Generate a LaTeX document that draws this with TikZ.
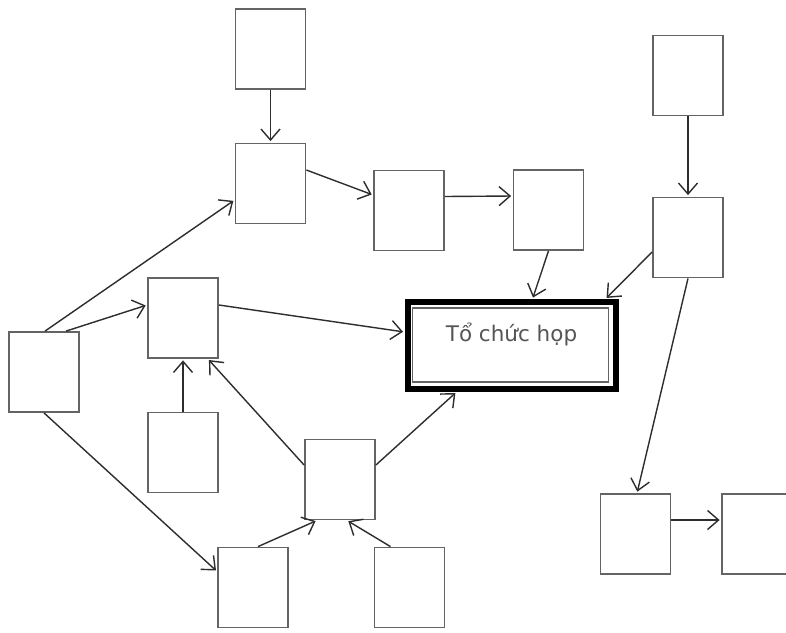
\documentclass[tikz,border=0pt]{standalone}
\usepackage{fontspec}
\newfontfamily\labelfont{DejaVu Sans}
\usetikzlibrary{arrows.meta}
\definecolor{boxgray}{RGB}{100,100,100}
\definecolor{arrgray}{RGB}{45,45,45}
\definecolor{txtgray}{RGB}{85,85,85}
\begin{document}
\begin{tikzpicture}[x=1pt,y=-1pt,
  box/.style={draw=boxgray, line width=1.8pt, minimum width=70pt, minimum height=80pt, inner sep=0pt, fill=white},
  conn/.style={draw=arrgray, line width=1.4pt, shorten >=1.5pt, -{Straight Barb[length=11pt,width=19pt,line width=1.4pt]}},
  mainbox/.style={draw=black, line width=6pt, minimum width=208pt, minimum height=87pt, inner sep=0pt,
     font=\labelfont\fontsize{21.5}{26}\selectfont, text=txtgray, text height=17pt, text depth=25pt}]
\useasboundingbox (0,0) rectangle (786,632);
\clip (0,0) rectangle (786,632);
\fill[white] (0,0) rectangle (786,632);
% boxes
\node[box] (top) at (270.5,49) {};
\node[box] (B) at (270.5,183.5) {};
\node[box] (C) at (409,210.5) {};
\node[box] (D) at (548.5,210) {};
\node[box] (RT) at (688,75.5) {};
\node[box] (RM) at (688,237.5) {};
\node[box] (E) at (183,318) {};
\node[box] (F) at (44,372) {};
\node[box] (G) at (183,452.5) {};
\node[box] (H) at (340,479.5) {};
\node[box] (I) at (253,587.5) {};
\node[box] (J) at (409.5,587.5) {};
\node[box] (K) at (635.5,534) {};
\node[box] (L) at (757,534) {};
\node[mainbox] (main) at (511.5,345.5) {Tổ chức họp};
\draw[boxgray, line width=1.3pt] ([xshift=8pt,yshift=-9pt]main.north west) rectangle ([xshift=-10pt,yshift=10pt]main.south east);
% connectors
\draw[conn] (top.south) -- (B.north);
\draw[conn] ([yshift=13.5pt]B.east) -- ([yshift=15.5pt]C.west);
\draw[conn] ([yshift=14pt]C.east) -- ([yshift=14pt]D.west);
\draw[conn] (D.south) -- ([xshift=21pt]main.north);
\draw[conn] ([yshift=-14.5pt]RM.west) -- ([xshift=-13pt]main.north east);
\draw[conn] (RT.south) -- (RM.north);
\draw[conn] (RM.south) -- ([xshift=1.5pt]K.north);
\draw[conn] ([yshift=14pt]K.east) -- ([yshift=14pt]L.west);
\draw[conn] ([xshift=1pt]F.north) -- ([yshift=-16.5pt]B.west);
\draw[conn] ([xshift=22pt]F.north) -- ([yshift=13pt]E.west);
\draw[conn] ([yshift=13pt]E.east) -- ([yshift=13.5pt]main.west);
\draw[conn] (F.south) -- ([yshift=16pt]I.west);
\draw[conn] (G.north) -- (E.south);
\draw[conn] ([yshift=14.5pt]H.west) -- ([xshift=-11pt]E.south east);
\draw[conn] ([yshift=14.5pt]H.east) -- ([xshift=52pt]main.south west);
\draw[conn] ([xshift=5pt]I.north) -- ([xshift=-23pt]H.south);
\draw[conn] ([xshift=-19pt]J.north) -- ([xshift=7pt]H.south);
\end{tikzpicture}
\end{document}
